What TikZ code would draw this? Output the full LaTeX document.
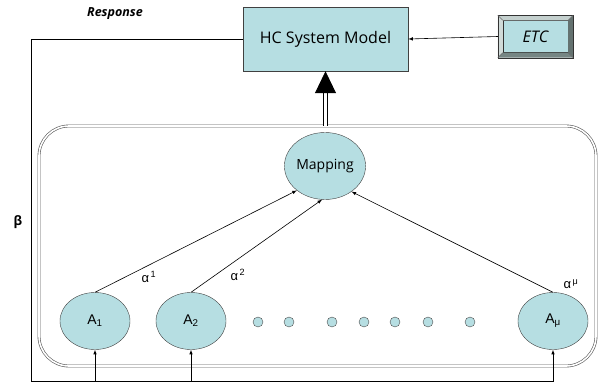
\documentclass[tikz,border=0pt]{standalone}
\usepackage{fontspec}
\setmainfont{Open Sans}
\newfontfamily\labelfont{Liberation Sans}
\usetikzlibrary{shapes.geometric,arrows.meta}

\definecolor{panel}{RGB}{182,222,226}
\definecolor{bevlight}{RGB}{196,208,206}
\definecolor{bevdark}{RGB}{118,134,132}

\tikzset{
  sysbox/.style={draw=black!75, fill=panel, minimum width=165pt, minimum height=64pt, inner sep=0pt},
  unit/.style={ellipse, draw=black!75, fill=panel, minimum width=70pt, minimum height=57pt, inner sep=0pt,
    font=\labelfont\fontsize{14}{14}\selectfont},
  dot/.style={circle, draw=black!70, fill=panel, minimum size=10pt, inner sep=0pt},
  wire/.style={line width=0.6pt},
  weight/.style={font=\labelfont\fontsize{13}{13}\selectfont, inner sep=0pt}
}

\begin{document}
\begin{tikzpicture}[x=1pt,y=-1pt,>=latex]
  \useasboundingbox (0,0) rectangle (598,383);

  % system model and ETC input
  \node[sysbox, font=\fontsize{16}{18}\selectfont] (hc) at (325.5,39) {HC System Model};
  \node[draw=black!80, fill=panel, minimum width=65pt, minimum height=32pt, inner sep=0pt,
    font=\itshape\fontsize{16}{18}\selectfont] (etc) at (535.5,36.5) {ETC};
  \coordinate (enw) at ([shift={(-5pt,5pt)}]etc.north west);
  \coordinate (ene) at ([shift={(5pt,5pt)}]etc.north east);
  \coordinate (ese) at ([shift={(5pt,-5pt)}]etc.south east);
  \coordinate (esw) at ([shift={(-5pt,-5pt)}]etc.south west);
  \fill[bevlight] (enw) -- (ene) -- (etc.north east) -- (etc.north west) -- cycle;
  \fill[bevlight!80!white] (enw) -- (etc.north west) -- (etc.south west) -- (esw) -- cycle;
  \fill[bevdark] (esw) -- (ese) -- (etc.south east) -- (etc.south west) -- cycle;
  \fill[bevdark!85!black] (ese) -- (ene) -- (etc.north east) -- (etc.south east) -- cycle;
  \draw[black!80] (enw) rectangle (ese);
  \draw[black!60] (enw) -- (etc.north west) (ene) -- (etc.north east)
    (ese) -- (etc.south east) (esw) -- (etc.south west);
  \draw[wire,->] (esw |- etc.west) -- (hc.east);

  \node[font=\bfseries\itshape\fontsize{12.5}{14}\selectfont] (resp) at (115,14) {Response};
  \node[font=\bfseries\fontsize{13}{13}\selectfont] (beta) at (18,222) {β};

  % mapping layer
  \node[draw=black!65, double=white, double distance=1.6pt, line width=0.6pt, rounded corners=30pt,
    minimum width=557pt, minimum height=240pt] (layer) at (317.5,246) {};
  \node[unit, minimum width=74pt, minimum height=67pt, font=\fontsize{14}{14}\selectfont] (map) at (325,166) {Mapping};
  \node[unit] (a1) at (95,321) {A\textsubscript{1}};
  \node[unit] (a2) at (191,321) {A\textsubscript{2}};
  \node[unit] (amu) at (553,321) {A\textsubscript{μ}};
  \foreach \x in {258,289,332,364,395,428,470}
    \node[dot] at (\x,322) {};

  \draw[wire,->] (a1.north) -- (map.221);
  \draw[wire,->] (a2.north) -- (map.265);
  \draw[wire,->] (amu.north) -- (map.316);
  \node[weight] (w1) at (149,277) {α\textsuperscript{\,1}};
  \node[weight] (w2) at (238,275) {α\textsuperscript{\,2}};
  \node[weight] (wmu) at (571,284) {α\textsuperscript{\,μ}};

  % layer output into the model
  \draw[line width=0.8pt, double=white, double distance=2.5pt, -{Triangle[length=22pt,width=21pt]}]
    (hc.south |- layer.north) -- (hc.south);

  % response fed back to every unit
  \coordinate (ctop) at (31,39);
  \coordinate (cbot) at (31,381);
  \draw[wire,->] (hc.west) -- (ctop) -- (cbot) -| (amu.south);
  \draw[wire,->] (cbot -| a1.south) -- (a1.south);
  \draw[wire,->] (cbot -| a2.south) -- (a2.south);
\end{tikzpicture}
\end{document}
